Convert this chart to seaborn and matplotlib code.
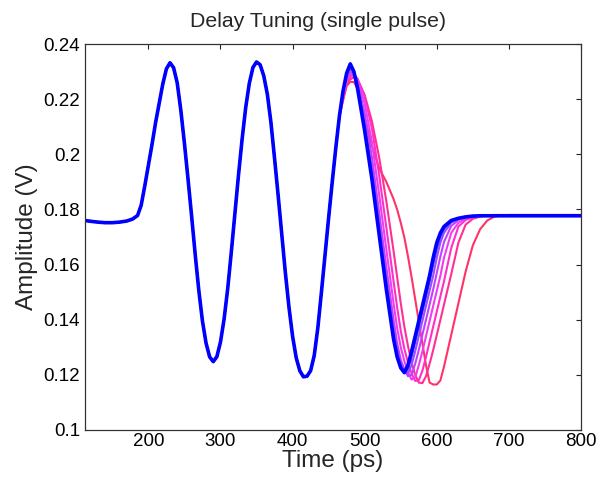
import matplotlib
matplotlib.use("Agg")
import matplotlib.pyplot as plt
import pandas as pd
import seaborn as sns

# part of the pulse that is the same for every delay setting (ps, V)
time_common = [112, 120, 130, 140, 150, 160, 170, 178,
               185, 190, 195, 200, 205, 210, 215, 220, 225, 230,
               235, 240, 245, 250, 255, 260, 265, 270, 275, 280, 285, 290,
               295, 300, 305, 310, 315, 320, 325, 330, 335, 340, 345, 350,
               355, 360, 365, 370, 375, 380, 385, 390, 395, 400, 405, 410, 415, 420,
               425, 430, 435, 440, 445, 450, 455, 460, 465]
amp_common = [0.1760, 0.1757, 0.1754, 0.1752, 0.1752, 0.1754, 0.1758, 0.1765,
              0.1778, 0.1815, 0.1885, 0.1960, 0.2035, 0.2115, 0.2185, 0.2255, 0.2310, 0.2332,
              0.2314, 0.2259, 0.2160, 0.2040, 0.1910, 0.1775, 0.1635, 0.1505, 0.1395, 0.1315, 0.1265, 0.1248,
              0.1266, 0.1319, 0.1402, 0.1512, 0.1645, 0.1785, 0.1925, 0.2055, 0.2170, 0.2258, 0.2315, 0.2335,
              0.2325, 0.2285, 0.2218, 0.2115, 0.1985, 0.1850, 0.1710, 0.1570, 0.1445, 0.1340, 0.1262, 0.1215, 0.1193, 0.1195,
              0.1215, 0.1270, 0.1370, 0.1500, 0.1635, 0.1770, 0.1900, 0.2025, 0.2140]

# after the third peak the traces separate
time_tail = [470, 475, 480, 485, 490, 500, 510, 520, 530, 540,
             545, 550, 555, 560, 565, 570, 575, 580, 585, 590, 595, 600, 605, 610,
             620, 630, 640, 650, 660, 670, 680, 690, 700, 800]

tail_red = [0.2195, 0.2248, 0.2263, 0.2262, 0.2240, 0.2135, 0.2030, 0.1950, 0.1900, 0.1838,
            0.1800, 0.1752, 0.1698, 0.1630, 0.1555, 0.1475, 0.1395, 0.1315, 0.1235, 0.1172, 0.1165, 0.1165, 0.1180, 0.1230,
            0.1345, 0.1460, 0.1575, 0.1670, 0.1728, 0.1760, 0.1774, 0.1779, 0.1780, 0.1780]
tail_pink = [0.2200, 0.2255, 0.2272, 0.2280, 0.2272, 0.2215, 0.2120, 0.1990, 0.1830, 0.1650,
             0.1555, 0.1460, 0.1375, 0.1305, 0.1245, 0.1200, 0.1172, 0.1170, 0.1195, 0.1240, 0.1290, 0.1345, 0.1400, 0.1455,
             0.1565, 0.1680, 0.1745, 0.1766, 0.1774, 0.1778, 0.1780, 0.1780, 0.1780, 0.1780]
tail_rose = [0.2205, 0.2262, 0.2282, 0.2288, 0.2275, 0.2210, 0.2095, 0.1925, 0.1735, 0.1540,
             0.1445, 0.1360, 0.1295, 0.1245, 0.1205, 0.1178, 0.1180, 0.1215, 0.1265, 0.1320, 0.1375, 0.1430, 0.1485, 0.1540,
             0.1660, 0.1738, 0.1762, 0.1771, 0.1776, 0.1778, 0.1779, 0.1779, 0.1779, 0.1779]
tail_magenta = [0.2212, 0.2270, 0.2290, 0.2292, 0.2270, 0.2185, 0.2045, 0.1855, 0.1655, 0.1460,
                0.1370, 0.1300, 0.1250, 0.1210, 0.1183, 0.1190, 0.1235, 0.1285, 0.1340, 0.1395, 0.1450, 0.1505, 0.1560, 0.1625,
                0.1715, 0.1752, 0.1766, 0.1772, 0.1776, 0.1778, 0.1779, 0.1779, 0.1779, 0.1779]
tail_purple = [0.2220, 0.2278, 0.2298, 0.2295, 0.2265, 0.2148, 0.1990, 0.1790, 0.1590, 0.1400,
               0.1315, 0.1255, 0.1220, 0.1195, 0.1200, 0.1240, 0.1290, 0.1345, 0.1400, 0.1455, 0.1510, 0.1570, 0.1630, 0.1682,
               0.1740, 0.1762, 0.1771, 0.1775, 0.1777, 0.1778, 0.1778, 0.1778, 0.1778, 0.1778]
tail_violet = [0.2225, 0.2285, 0.2308, 0.2298, 0.2258, 0.2115, 0.1950, 0.1750, 0.1550, 0.1365,
               0.1290, 0.1240, 0.1212, 0.1205, 0.1235, 0.1285, 0.1340, 0.1395, 0.1450, 0.1505, 0.1560, 0.1625, 0.1680, 0.1715,
               0.1752, 0.1766, 0.1772, 0.1776, 0.1777, 0.1778, 0.1778, 0.1778, 0.1778, 0.1778]
tail_indigo = [0.2228, 0.2290, 0.2318, 0.2300, 0.2250, 0.2100, 0.1930, 0.1730, 0.1530, 0.1345,
               0.1275, 0.1230, 0.1210, 0.1222, 0.1265, 0.1318, 0.1373, 0.1428, 0.1483, 0.1538, 0.1600, 0.1658, 0.1701, 0.1729,
               0.1757, 0.1767, 0.1773, 0.1776, 0.1777, 0.1777, 0.1777, 0.1777, 0.1777, 0.1777]
tail_blue = [0.2230, 0.2295, 0.2328, 0.2300, 0.2240, 0.2085, 0.1910, 0.1710, 0.1510, 0.1330,
             0.1265, 0.1225, 0.1208, 0.1235, 0.1285, 0.1340, 0.1395, 0.1450, 0.1505, 0.1560, 0.1625, 0.1680, 0.1715, 0.1738,
             0.1760, 0.1768, 0.1773, 0.1776, 0.1777, 0.1777, 0.1777, 0.1777, 0.1777, 0.1777]

tails = [tail_red, tail_pink, tail_rose, tail_magenta, tail_purple, tail_violet, tail_indigo, tail_blue]
colores = ['#ff3366', '#ff2f96', '#ff2fc8', '#f03cf0', '#c040ff', '#9a4dff', '#5a3cff', '#0000ff']
grosores = [1.5, 1.5, 1.5, 1.5, 1.5, 1.5, 1.5, 2.6]

ytick_vals = [0.1, 0.12, 0.14, 0.16, 0.18, 0.2, 0.22, 0.24]
ytick_labels = ['0.1', '0.12', '0.14', '0.16', '0.18', '0.2', '0.22', '0.24']
xtick_vals = [200, 300, 400, 500, 600, 700, 800]

sns.set_style('white')
plt.rcParams['font.family'] = ['Liberation Sans', 'DejaVu Sans']

fig, ax = plt.subplots(figsize=(5.98, 4.84), dpi=100)
fig.subplots_adjust(left=0.142, right=0.9716, bottom=0.1116, top=0.909)

for tail, color, lw in zip(tails, colores, grosores):
    df = pd.DataFrame({'time': time_common + time_tail, 'amp': amp_common + tail})
    sns.lineplot(data=df, x='time', y='amp', color=color, linewidth=lw,
                 estimator=None, sort=False, ax=ax)

ax.set_xlim(112, 800)
ax.set_ylim(0.1, 0.24)
ax.set_xticks(xtick_vals)
ax.set_xticklabels([str(v) for v in xtick_vals])
ax.set_yticks(ytick_vals)
ax.set_yticklabels(ytick_labels)
ax.tick_params(direction='in', top=True, right=True, length=3.8, width=0.8,
               labelsize=13.5, colors='#222222', labelcolor='black')
ax.tick_params(axis='x', pad=2)
ax.tick_params(axis='y', pad=3.5)
for s in ax.spines.values():
    s.set_color('#333333')
    s.set_linewidth(0.9)

ax.set_xlabel('Time (ps)', fontsize=17.5, labelpad=0)
ax.set_ylabel('Amplitude (V)', fontsize=17.5, labelpad=4)
fig.text(0.532, 0.944, 'Delay Tuning (single pulse)', ha='center', va='baseline', fontsize=15.3)

fig.savefig('out.png', dpi=100)
plt.close(fig)
